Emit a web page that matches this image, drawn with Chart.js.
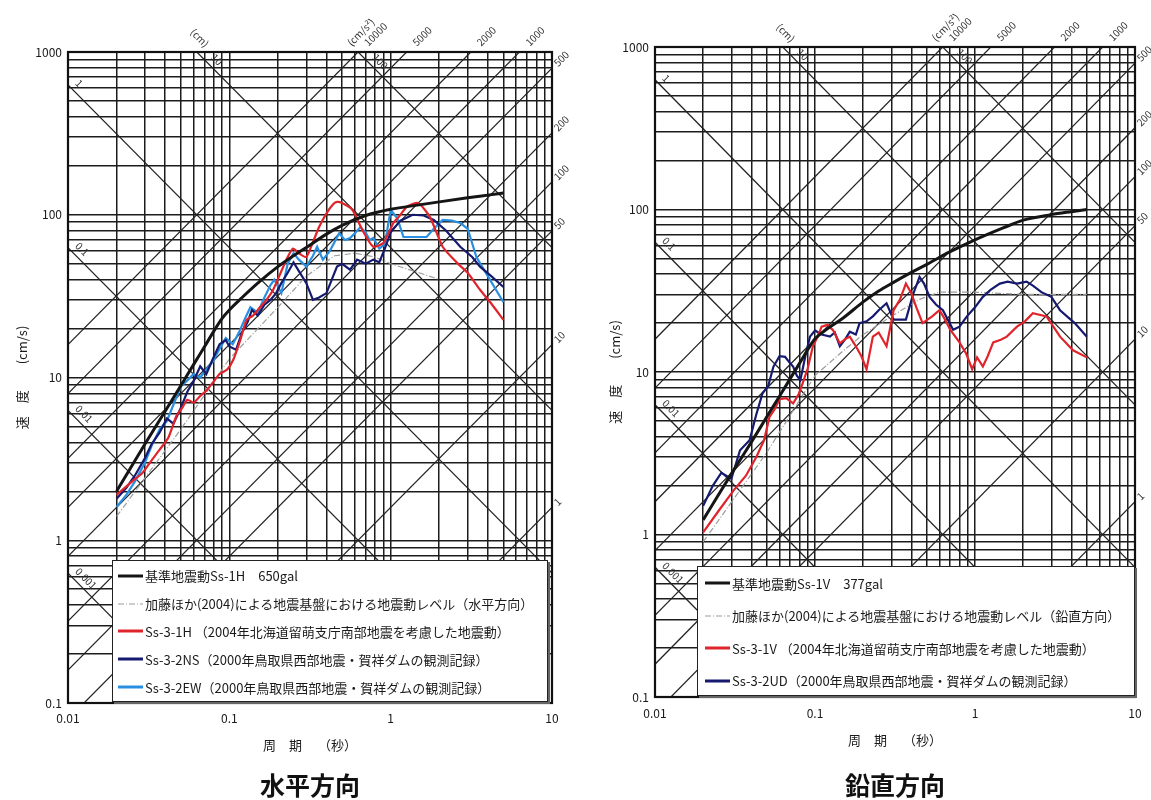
<!DOCTYPE html>
<html lang="ja">
<head>
<meta charset="utf-8">
<script src="https://cdn.jsdelivr.net/npm/chart.js@4.4.1/dist/chart.umd.min.js"></script>
<style>
  html, body { margin: 0; padding: 0; background: #fff; }
  body { width: 1151px; height: 800px; position: relative; overflow: hidden;
         font-family: "Noto Sans CJK JP", "Noto Sans", sans-serif; }
  canvas { position: absolute; top: 0; }
  #chartH { left: 0; }
  #chartV { left: 575px; }
  .legend { position: absolute; background: #fff; border: 1.5px solid #222;
            box-shadow: 2px 2px 0 #666; box-sizing: border-box; font-size: 13px; color: #1a1a1a; }
  .legend .row { display: flex; align-items: center; white-space: nowrap; }
  .legend svg { flex: 0 0 auto; margin-right: 2px; }
</style>
</head>
<body>
<canvas id="chartH" width="575" height="800"></canvas>
<canvas id="chartV" width="576" height="800"></canvas>
<div id="legendH" class="legend" style="left:112px;top:560px;width:436px;height:142px;padding:1px 0 0 5px"></div>
<div id="legendV" class="legend" style="left:697px;top:566px;width:438px;height:130px;padding:0 0 0 7px"></div>
<script>
// ---- axes ----
const periodTicks = [0.01, 0.1, 1, 10];            // s
const velocityTicks = [0.1, 1, 10, 100, 1000];     // cm/s
const gridSteps = [1, 2, 3, 4, 5, 6, 7, 8, 9];
const displacementLines = [0.001, 0.01, 0.1, 1, 10, 100];                      // cm
const accelerationLines = [1, 10, 50, 100, 200, 500, 1000, 2000, 5000, 10000]; // cm/s²

// ---- horizontal component ----
const ss1H_T = [0.02,0.03,0.04,0.05,0.06,0.07,0.08,0.09,0.1,0.12,0.15,0.2,0.25,0.3,0.4,0.5,0.7,1,1.5,2,3,4,5];
const ss1H_V = [2.0,3.9,6.2,8.9,12,15.4,19.2,23,26,31,38,48,56,63,76,86,99,108,115,120,127,132,136];

const katoH_T = [0.02,0.05,0.1,0.2,0.3,0.45,0.6,0.8,1.0,1.5,2.0];
const katoH_V = [1.4,4.8,13,27,42,56,58,55,50,44,40];

const ss31H_T = [0.02,0.025,0.029,0.033,0.037,0.042,0.047,0.051,0.055,0.06,0.066,0.072,0.079,0.087,0.097,0.106,0.117,0.128,0.14,0.155,0.17,0.187,0.21,0.23,0.248,0.27,0.3,0.33,0.36,0.4,0.44,0.465,0.5,0.58,0.67,0.78,0.9,1.04,1.15,1.26,1.48,1.75,2.1,2.57,3.0,3.58,4.2,5.0];
const ss31H_V = [1.9,2.3,2.6,3.1,3.6,4.3,5.8,6.5,7.3,7.0,7.7,8.3,9.3,10.5,11.2,12.9,17,22.6,24,27,30,34.6,45,55,62,58,55,68,84,102,116,120,118,107,80,63.6,67,89,100,112,118,97,63.6,50.8,44,34.6,28.5,22.6];

const ss32NS_T = [0.02,0.023,0.026,0.03,0.033,0.037,0.041,0.045,0.05,0.055,0.06,0.066,0.072,0.079,0.087,0.095,0.1,0.11,0.12,0.13,0.138,0.15,0.165,0.18,0.195,0.21,0.23,0.25,0.27,0.3,0.33,0.36,0.4,0.44,0.465,0.5,0.56,0.62,0.7,0.78,0.85,0.92,1.0,1.15,1.37,1.6,1.85,2.2,2.7,3.2,3.58,4.2,5.0];
const ss32NS_V = [1.8,2.1,2.5,3.2,3.9,4.6,5.6,5.2,6.5,8.2,9.5,11.7,10.5,13,16,17,15.5,14.8,19,22,26,24,28,30,33,38,44,51,45,38,30,31,33,42,48,50,46,53,50,53,51,62,78,92,100,99,93,80,63.6,55,48,42,36];

const ss32EW_T = [0.02,0.023,0.026,0.03,0.033,0.037,0.041,0.045,0.05,0.055,0.06,0.066,0.072,0.079,0.087,0.095,0.105,0.115,0.125,0.135,0.15,0.165,0.18,0.19,0.21,0.23,0.25,0.27,0.3,0.33,0.35,0.38,0.42,0.48,0.52,0.56,0.6,0.65,0.7,0.74,0.78,0.85,0.92,1.0,1.1,1.2,1.4,1.67,1.85,2.1,2.4,2.7,3.0,3.4,4.0,5.0];
const ss32EW_V = [1.6,1.9,2.3,3.0,3.8,4.8,5.4,6.8,8.8,9.6,10.5,10.0,11.2,12.5,15,17.5,16,19,23,27,25,31,37,40,33,50,58,53,48,56,63.6,53,60,77,70,72,77,84,78,70,72,62,66,107,95,73,73,73,82,93,92,89,82,55,42,29];

// ---- vertical component ----
const ss1V_T = [0.02,0.03,0.04,0.05,0.06,0.07,0.08,0.09,0.1,0.12,0.15,0.2,0.25,0.3,0.4,0.5,0.7,1,1.5,2,3,4,5];
const ss1V_V = [1.23,2.36,3.7,5.3,7.1,9.1,11.3,13.7,16,18.5,21.5,27,31.5,35,41,46,55,65,77,86,93,97,100];

const katoV_T = [0.02,0.05,0.1,0.15,0.2,0.3,0.45,0.6,1,2,3,5];
const katoV_V = [0.9,3.2,9.5,13.5,17,22,28,31,31,30,30,30];

const ss31V_T = [0.02,0.025,0.031,0.037,0.043,0.048,0.052,0.056,0.06,0.066,0.073,0.079,0.084,0.09,0.097,0.104,0.11,0.12,0.13,0.143,0.155,0.165,0.18,0.195,0.21,0.23,0.25,0.28,0.31,0.34,0.37,0.4,0.43,0.47,0.54,0.6,0.65,0.7,0.8,0.88,0.96,1.03,1.12,1.2,1.3,1.45,1.58,1.83,2.05,2.3,2.8,3.4,4.1,5.0];
const ss31V_V = [1.03,1.4,1.87,2.3,3.0,3.8,5.3,5.9,6.8,6.9,6.4,7.3,8.6,10.5,14.4,16.5,19,19.5,18,15,16,16.5,14.4,12.5,10.4,16.5,17.5,14.4,24,28,35,30.5,25,20,22,24,21,18.2,15.2,13,10.4,12.3,10.8,12.5,15.2,15.8,16.5,19,20.5,23,22,16.5,13.6,12.3];

const ss32UD_T = [0.02,0.023,0.026,0.03,0.034,0.039,0.043,0.047,0.051,0.055,0.06,0.065,0.069,0.073,0.077,0.081,0.087,0.093,0.1,0.11,0.124,0.133,0.143,0.155,0.165,0.18,0.19,0.21,0.23,0.25,0.28,0.31,0.34,0.37,0.41,0.45,0.48,0.52,0.57,0.63,0.73,0.8,0.89,1.0,1.12,1.25,1.43,1.6,1.83,2.1,2.3,2.6,3.0,3.4,4.2,5.0];
const ss32UD_V = [1.5,2.0,2.4,2.2,3.3,3.8,5.5,7.4,8.2,10.8,12.5,12.4,11.5,10.8,9.5,8.9,12.5,16.5,18,17,16.5,17.5,14.4,16,17.7,17,20,20.5,22,24,26.5,21,21,21,30,38.5,35,29,26,24,18.2,19,22,25,29,32,35,36,35,36,34,31,29,24,20,16.5];

// ---- styling ----
const FONT = '"Noto Sans CJK JP", "Noto Sans", sans-serif';
const BLACK = '#151515', GRAY = '#9c9c9c', RED = '#e0242b', NAVY = '#151a6e', SKY = '#2a8fe0';
const GRID = '#1c1c1c';

const pts = (T, V) => T.map((t, i) => ({ x: t, y: V[i] }));

function logGrid(decades) {
  const out = [];
  for (let i = 0; i < decades.length - 1; i++) {
    for (const m of gridSteps) out.push(+(m * decades[i]).toPrecision(6));
  }
  out.push(decades[decades.length - 1]);
  return out;
}

function series(label, T, V, color, width, extra) {
  return Object.assign({
    label, data: pts(T, V), borderColor: color, backgroundColor: color,
    borderWidth: width, pointRadius: 0, tension: 0, fill: false
  }, extra || {});
}

// tripartite diagonals: constant displacement (V = 2πD/T) and constant acceleration (V = A·T/2π)
const tripartite = {
  id: 'tripartite',
  beforeDatasetsDraw(chart) {
    const { ctx, chartArea: a, scales: { x, y } } = chart;
    const T0 = x.min, T1 = x.max;
    ctx.save();
    ctx.beginPath();
    ctx.rect(a.left, a.top, a.right - a.left, a.bottom - a.top);
    ctx.clip();
    ctx.strokeStyle = '#222';
    ctx.lineWidth = 1.25;
    const seg = (v0, v1) => {
      ctx.beginPath();
      ctx.moveTo(x.getPixelForValue(T0), y.getPixelForValue(v0));
      ctx.lineTo(x.getPixelForValue(T1), y.getPixelForValue(v1));
      ctx.stroke();
    };
    for (const d of displacementLines) seg(2 * Math.PI * d / T0, 2 * Math.PI * d / T1);
    for (const A of accelerationLines) seg(A * T0 / (2 * Math.PI), A * T1 / (2 * Math.PI));
    ctx.restore();
  },
  afterDatasetsDraw(chart) {
    const { ctx, chartArea: a, scales: { x, y } } = chart;
    const T0 = x.min, T1 = x.max, Vmax = y.max;
    ctx.save();
    // plot frame
    ctx.strokeStyle = '#111';
    ctx.lineWidth = 2.2;
    ctx.strokeRect(a.left, a.top, a.right - a.left, a.bottom - a.top);

    ctx.fillStyle = '#333';
    ctx.font = '10px ' + FONT;
    const put = (px, py, ang, text, u, w, align) => {
      ctx.save();
      ctx.translate(px, py);
      ctx.rotate(ang);
      ctx.textAlign = align;
      ctx.textBaseline = 'middle';
      ctx.fillText(text, u, w);
      ctx.restore();
    };
    const angleOf = (v0, v1) => Math.atan2(
      y.getPixelForValue(v1) - y.getPixelForValue(v0),
      x.getPixelForValue(T1) - x.getPixelForValue(T0));

    let unitDone = false;
    for (const d of displacementLines) {
      const ang = angleOf(2 * Math.PI * d / T0, 2 * Math.PI * d / T1);
      const vLeft = 2 * Math.PI * d / T0;
      if (vLeft <= Vmax) {
        put(a.left, y.getPixelForValue(vLeft), ang, String(d), 4, -9, 'left');
      } else {
        const tTop = 2 * Math.PI * d / Vmax;
        const px = x.getPixelForValue(tTop);
        put(px, a.top, ang, String(d), 14, -9, 'left');
        if (!unitDone) { put(px, a.top, ang, '(cm)', -8, -12, 'center'); unitDone = true; }
      }
    }
    const topAcc = [];
    for (const A of accelerationLines) {
      const ang = angleOf(A * T0 / (2 * Math.PI), A * T1 / (2 * Math.PI));
      const vRight = A * T1 / (2 * Math.PI);
      if (vRight <= Vmax) {
        put(a.right, y.getPixelForValue(vRight), ang, String(A), 5, 0, 'left');
      } else {
        const tTop = 2 * Math.PI * Vmax / A;
        topAcc.push({ A, px: x.getPixelForValue(tTop), ang });
      }
    }
    topAcc.forEach(t => put(t.px, a.top, t.ang, String(t.A), 11, 0, 'left'));
    if (topAcc.length) {
      const hi = topAcc.reduce((p, c) => (c.A > p.A ? c : p));
      put(hi.px, a.top, hi.ang, '(cm/s²)', 16, -12, 'center');
    }
    ctx.restore();
  }
};

function makeChart(id, cfg) {
  return new Chart(document.getElementById(id), {
    type: 'line',
    data: { datasets: cfg.datasets },
    plugins: [tripartite],
    options: {
      responsive: false, animation: false, devicePixelRatio: 1,
      layout: { padding: { top: cfg.padTop, right: cfg.padRight, left: 0, bottom: 0 } },
      plugins: {
        legend: { display: false },
        tooltip: { enabled: false },
        title: {
          display: true, text: cfg.title, position: 'bottom', fullSize: false,
          color: '#111', padding: 0,
          font: { family: FONT, size: 25, weight: 'bold', lineHeight: 1.2 }
        }
      },
      scales: {
        x: {
          type: 'logarithmic', position: 'bottom',
          min: periodTicks[0], max: periodTicks[periodTicks.length - 1],
          afterBuildTicks: s => { s.ticks = logGrid(periodTicks).map(v => ({ value: v })); },
          afterFit: s => { s.height = cfg.xHeight; },
          ticks: {
            autoSkip: false, maxRotation: 0, minRotation: 0, padding: cfg.xTickPad,
            color: '#1a1a1a', font: { family: FONT, size: 12 },
            callback: v => (periodTicks.includes(v) ? String(v) : '')
          },
          grid: { color: GRID, lineWidth: 1.5, drawTicks: false },
          border: { display: true, color: '#111', width: 2 },
          title: {
            display: true, text: '周　期　 （秒）', color: '#1a1a1a',
            font: { family: FONT, size: 13, lineHeight: 1.2 },
            padding: { top: 0, bottom: cfg.xTitlePad }
          }
        },
        y: {
          type: 'logarithmic', position: 'left',
          min: velocityTicks[0], max: velocityTicks[velocityTicks.length - 1],
          afterBuildTicks: s => { s.ticks = logGrid(velocityTicks).map(v => ({ value: v })); },
          afterFit: s => { s.width = cfg.yWidth; },
          ticks: {
            autoSkip: false, padding: 6, color: '#1a1a1a', font: { family: FONT, size: 12 },
            callback: v => (velocityTicks.includes(v) ? String(v) : '')
          },
          grid: { color: GRID, lineWidth: 1.5, drawTicks: false },
          border: { display: true, color: '#111', width: 2 },
          title: {
            display: true, text: '速　度　　(cm/s)', color: '#1a1a1a',
            font: { family: FONT, size: 13, lineHeight: 1.2 },
            padding: { top: cfg.yTitlePad, bottom: 0 }
          }
        }
      }
    }
  });
}

const kato = { borderDash: [6, 2, 1, 2], order: 10 };

const seriesH = [
  series('基準地震動Ss-1H　650gal', ss1H_T, ss1H_V, BLACK, 3, { tension: 0.35, cubicInterpolationMode: 'monotone', order: 0 }),
  series('加藤ほか(2004)による地震基盤における地震動レベル（水平方向）', katoH_T, katoH_V, GRAY, 1.2, kato),
  series('Ss-3-1H （2004年北海道留萌支庁南部地震を考慮した地震動）', ss31H_T, ss31H_V, RED, 2.2, { order: 1, tension: 0.2 }),
  series('Ss-3-2NS（2000年鳥取県西部地震・賀祥ダムの観測記録）', ss32NS_T, ss32NS_V, NAVY, 2.2, { order: 2 }),
  series('Ss-3-2EW（2000年鳥取県西部地震・賀祥ダムの観測記録）', ss32EW_T, ss32EW_V, SKY, 2.2, { order: 3 })
];

const seriesV = [
  series('基準地震動Ss-1V　377gal', ss1V_T, ss1V_V, BLACK, 3, { tension: 0.35, cubicInterpolationMode: 'monotone', order: 0 }),
  series('加藤ほか(2004)による地震基盤における地震動レベル（鉛直方向）', katoV_T, katoV_V, GRAY, 1.2, kato),
  series('Ss-3-1V （2004年北海道留萌支庁南部地震を考慮した地震動）', ss31V_T, ss31V_V, RED, 2.2, { order: 1 }),
  series('Ss-3-2UD（2000年鳥取県西部地震・賀祥ダムの観測記録）', ss32UD_T, ss32UD_V, NAVY, 2.2, { order: 2 })
];

makeChart('chartH', {
  datasets: seriesH, title: '水平方向',
  padTop: 52, padRight: 23, yWidth: 68, xHeight: 67, xTickPad: 8, xTitlePad: 17, yTitlePad: 14
});
makeChart('chartV', {
  datasets: seriesV, title: '鉛直方向',
  padTop: 47, padRight: 16, yWidth: 80, xHeight: 73, xTickPad: 9, xTitlePad: 22, yTitlePad: 32
});

// legend boxes built from the dataset definitions
function buildLegend(elId, list, rowH) {
  const el = document.getElementById(elId);
  const NS = 'http://www.w3.org/2000/svg';
  for (const s of list) {
    const row = document.createElement('div');
    row.className = 'row';
    row.style.height = rowH + 'px';
    const svg = document.createElementNS(NS, 'svg');
    svg.setAttribute('width', '25');
    svg.setAttribute('height', '6');
    const ln = document.createElementNS(NS, 'line');
    ln.setAttribute('x1', '0'); ln.setAttribute('y1', '3');
    ln.setAttribute('x2', '25'); ln.setAttribute('y2', '3');
    ln.setAttribute('stroke', s.borderColor);
    ln.setAttribute('stroke-width', s.borderDash ? 1.2 : 3);
    if (s.borderDash) ln.setAttribute('stroke-dasharray', s.borderDash.join(' '));
    svg.appendChild(ln);
    const tx = document.createElement('span');
    tx.textContent = s.label;
    row.appendChild(svg);
    row.appendChild(tx);
    el.appendChild(row);
  }
}
buildLegend('legendH', seriesH, 27.8);
buildLegend('legendV', seriesV, 32.5);
</script>
</body>
</html>
